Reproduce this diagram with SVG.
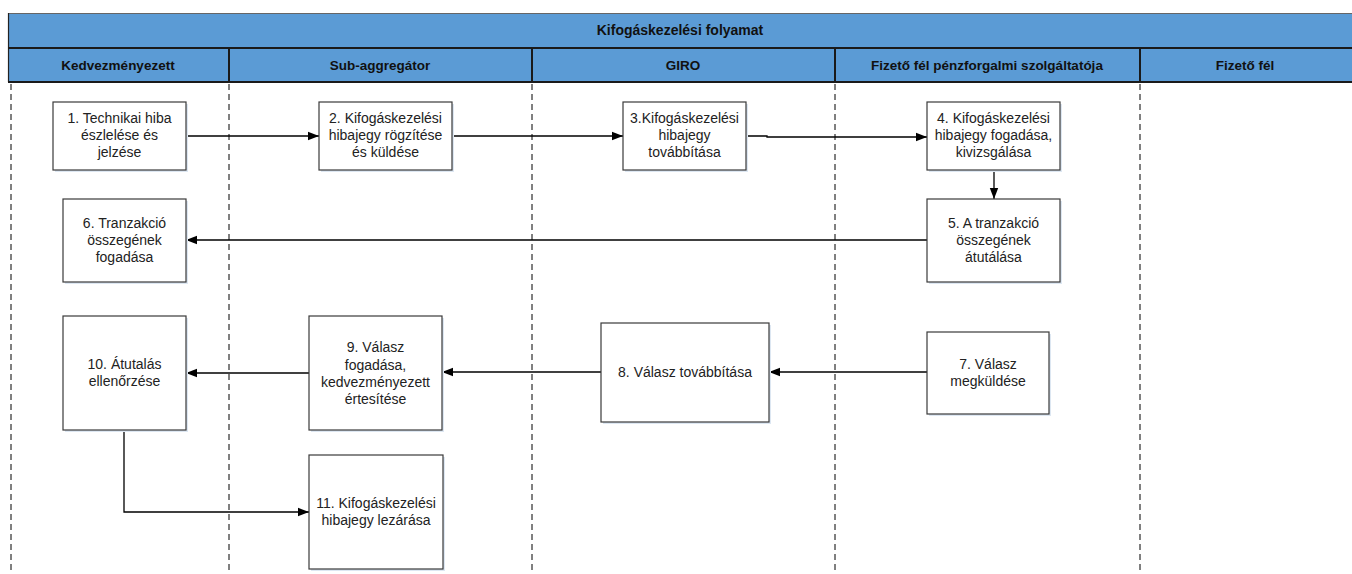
<svg xmlns="http://www.w3.org/2000/svg" width="1352" height="574" viewBox="0 0 1352 574">
<style>
.hdr{font-family:"Liberation Sans",Arial,sans-serif;font-size:13.5px;font-weight:bold;fill:#111;text-anchor:middle}
.ttl{font-size:14px}
.lbl{font-family:"Liberation Sans",Arial,sans-serif;font-size:14px;fill:#222;text-anchor:middle}
.box{fill:#fff;stroke:#3a3a3a;stroke-width:1.2}
.shadow{fill:#dde7f2}
.lane{stroke:#000;stroke-width:1;stroke-dasharray:6,4;fill:none}
.conn{stroke:#000;stroke-width:1.3;fill:none;marker-end:url(#arr)}
</style>
<defs>
<marker id="arr" markerWidth="12" markerHeight="10" refX="11" refY="5" orient="auto" markerUnits="userSpaceOnUse">
<path d="M0,0.8 L11,5 L0,9.2 Z" fill="#000"/>
</marker>
</defs>
<rect width="1352" height="574" fill="#fff"/>
<g id="header">
<rect x="8" y="13" width="1344" height="69" fill="#5b9bd5"/>
<line x1="8" y1="13.5" x2="1352" y2="13.5" stroke="#666" stroke-width="1.2"/>
<line x1="8.5" y1="13" x2="8.5" y2="82" stroke="#222" stroke-width="1.2"/>
<line x1="8" y1="48" x2="1352" y2="48" stroke="#1a1a1a" stroke-width="2"/>
<line x1="8" y1="82" x2="1352" y2="82" stroke="#1a1a1a" stroke-width="2"/>
<line x1="229" y1="48" x2="229" y2="82" stroke="#1a1a1a" stroke-width="2"/>
<line x1="532" y1="48" x2="532" y2="82" stroke="#1a1a1a" stroke-width="2"/>
<line x1="835" y1="48" x2="835" y2="82" stroke="#1a1a1a" stroke-width="2"/>
<line x1="1140" y1="48" x2="1140" y2="82" stroke="#1a1a1a" stroke-width="2"/>
<text class="hdr ttl" x="680" y="35">Kifogáskezelési folyamat</text>
<text class="hdr" x="118" y="70">Kedvezményezett</text>
<text class="hdr" x="380" y="70">Sub-aggregátor</text>
<text class="hdr" x="683" y="70">GIRO</text>
<text class="hdr" x="987" y="70">Fizető fél pénzforgalmi szolgáltatója</text>
<text class="hdr" x="1245" y="70">Fizető fél</text>
</g>
<g id="lanes">
<line class="lane" x1="11" y1="84" x2="11" y2="574"/>
<line class="lane" x1="229" y1="84" x2="229" y2="574"/>
<line class="lane" x1="532" y1="84" x2="532" y2="574"/>
<line class="lane" x1="835" y1="84" x2="835" y2="574"/>
<line class="lane" x1="1140" y1="84" x2="1140" y2="574"/>
</g>
<g id="connectors">
<path class="conn" d="M186 136 H319"/>
<path class="conn" d="M452 136 H623"/>
<path class="conn" d="M746 136 H767 V137 H927"/>
<path class="conn" d="M994 170 V199"/>
<path class="conn" d="M927 240 H186"/>
<path class="conn" d="M927 372 H769"/>
<path class="conn" d="M601 372 H442"/>
<path class="conn" d="M309 373 H186"/>
<path class="conn" d="M124 430 V512 H309"/>
</g>
<g id="n1">
<rect class="shadow" x="55" y="104" width="133" height="68"/>
<rect class="box" x="53" y="102" width="133" height="68"/>
<text class="lbl" x="119.5" y="123">1. Technikai hiba</text>
<text class="lbl" x="119.5" y="140">észlelése és</text>
<text class="lbl" x="119.5" y="157">jelzése</text>
</g>
<g id="n2">
<rect class="shadow" x="321" y="104" width="133" height="68"/>
<rect class="box" x="319" y="102" width="133" height="68"/>
<text class="lbl" x="385.5" y="123">2. Kifogáskezelési</text>
<text class="lbl" x="385.5" y="140">hibajegy rögzítése</text>
<text class="lbl" x="385.5" y="157">és küldése</text>
</g>
<g id="n3">
<rect class="shadow" x="625" y="104" width="123" height="68"/>
<rect class="box" x="623" y="102" width="123" height="68"/>
<text class="lbl" x="684.5" y="123">3.Kifogáskezelési</text>
<text class="lbl" x="684.5" y="140">hibajegy</text>
<text class="lbl" x="684.5" y="157">továbbítása</text>
</g>
<g id="n4">
<rect class="shadow" x="929" y="104" width="133" height="68"/>
<rect class="box" x="927" y="102" width="133" height="68"/>
<text class="lbl" x="993.5" y="123">4. Kifogáskezelési</text>
<text class="lbl" x="993.5" y="140">hibajegy fogadása,</text>
<text class="lbl" x="993.5" y="157">kivizsgálása</text>
</g>
<g id="n5">
<rect class="shadow" x="929" y="201" width="133" height="83"/>
<rect class="box" x="927" y="199" width="133" height="83"/>
<text class="lbl" x="993.5" y="228">5. A tranzakció</text>
<text class="lbl" x="993.5" y="245">összegének</text>
<text class="lbl" x="993.5" y="262">átutálása</text>
</g>
<g id="n6">
<rect class="shadow" x="65" y="201" width="123" height="83"/>
<rect class="box" x="63" y="199" width="123" height="83"/>
<text class="lbl" x="124.5" y="228">6. Tranzakció</text>
<text class="lbl" x="124.5" y="245">összegének</text>
<text class="lbl" x="124.5" y="262">fogadása</text>
</g>
<g id="n7">
<rect class="shadow" x="929" y="334" width="122" height="82"/>
<rect class="box" x="927" y="332" width="122" height="82"/>
<text class="lbl" x="988" y="369">7. Válasz</text>
<text class="lbl" x="988" y="386">megküldése</text>
</g>
<g id="n8">
<rect class="shadow" x="603" y="325" width="168" height="99"/>
<rect class="box" x="601" y="323" width="168" height="99"/>
<text class="lbl" x="685" y="377">8. Válasz továbbítása</text>
</g>
<g id="n9">
<rect class="shadow" x="311" y="318" width="133" height="114"/>
<rect class="box" x="309" y="316" width="133" height="114"/>
<text class="lbl" x="375.5" y="352">9. Válasz</text>
<text class="lbl" x="375.5" y="369.5">fogadása,</text>
<text class="lbl" x="375.5" y="387">kedvezményezett</text>
<text class="lbl" x="375.5" y="404">értesítése</text>
</g>
<g id="n10">
<rect class="shadow" x="65" y="318" width="123" height="114"/>
<rect class="box" x="63" y="316" width="123" height="114"/>
<text class="lbl" x="124.5" y="368.5">10. Átutalás</text>
<text class="lbl" x="124.5" y="386">ellenőrzése</text>
</g>
<g id="n11">
<rect class="shadow" x="311" y="457" width="134" height="114"/>
<rect class="box" x="309" y="455" width="134" height="114"/>
<text class="lbl" x="376" y="507.5">11. Kifogáskezelési</text>
<text class="lbl" x="376" y="525">hibajegy lezárása</text>
</g>
</svg>
